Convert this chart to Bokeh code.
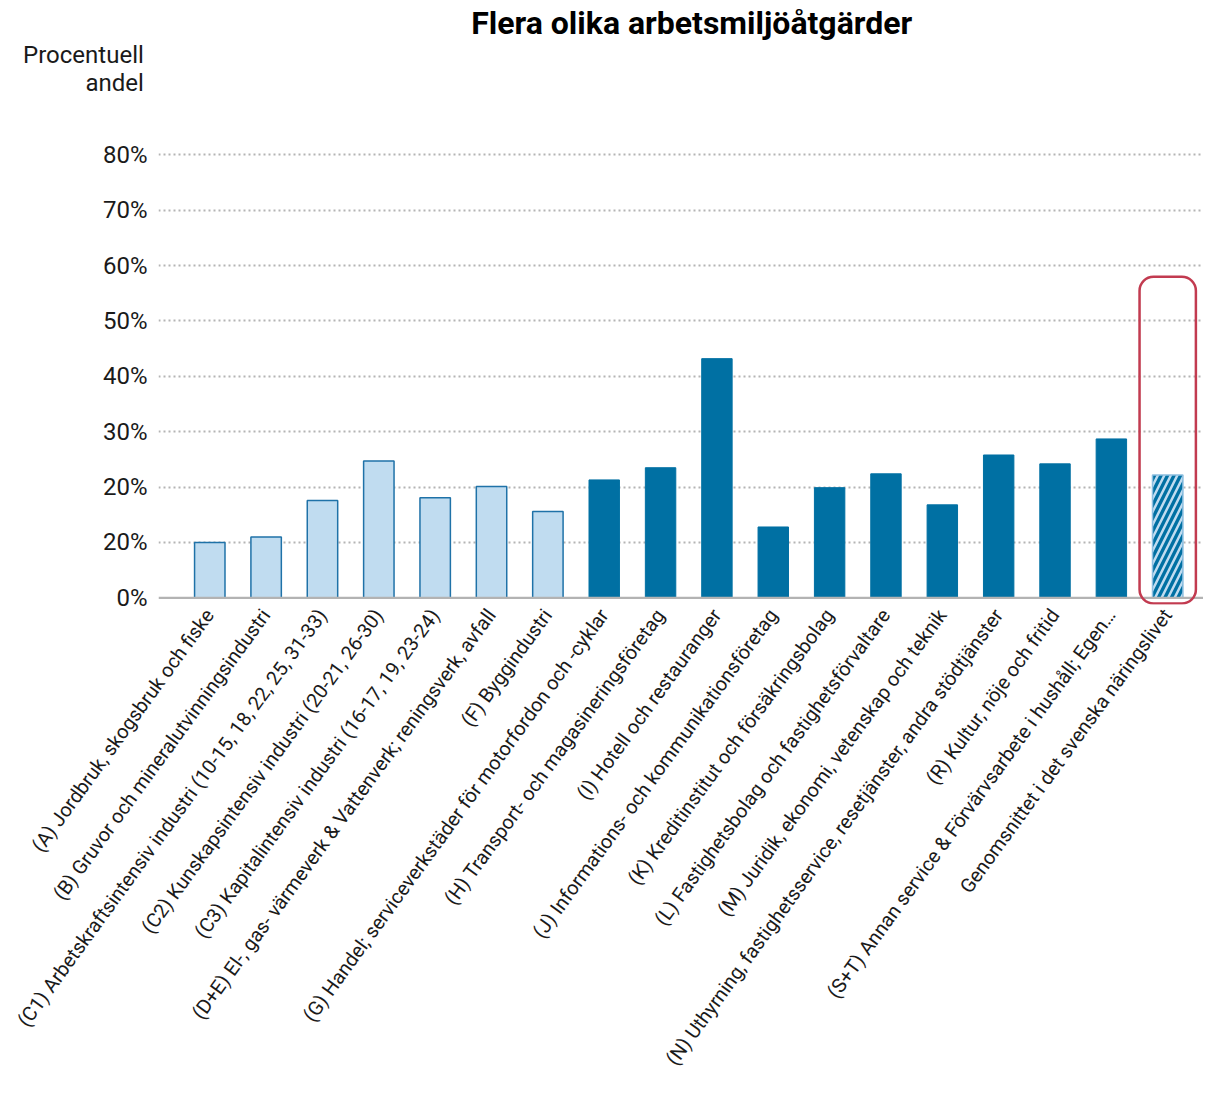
import math
from bokeh.plotting import figure
from bokeh.models import Range1d, FixedTicker, BoxAnnotation, ColumnDataSource, Span, Title
from bokeh.embed import file_html
from bokeh.resources import INLINE

# ---- data ----
categories = [
    "(A) Jordbruk, skogsbruk och fiske",
    "(B) Gruvor och mineralutvinningsindustri",
    "(C1) Arbetskraftsintensiv industri (10-15, 18, 22, 25, 31-33)",
    "(C2) Kunskapsintensiv industri (20-21, 26-30)",
    "(C3) Kapitalintensiv industri (16-17, 19, 23-24)",
    "(D+E) El-, gas- värmeverk & Vattenverk; reningsverk, avfall",
    "(F) Byggindustri",
    "(G) Handel; serviceverkstäder för motorfordon och -cyklar",
    "(H) Transport- och magasineringsföretag",
    "(I) Hotell och restauranger",
    "(J) Informations- och kommunikationsföretag",
    "(K) Kreditinstitut och försäkringsbolag",
    "(L) Fastighetsbolag och fastighetsförvaltare",
    "(M) Juridik, ekonomi, vetenskap och teknik",
    "(N) Uthyrning, fastighetsservice, resetjänster, andra stödtjänster",
    "(R) Kultur, nöje och fritid",
    "(S+T) Annan service & Förvärvsarbete i hushåll; Egen…",
    "Genomsnittet i det svenska näringslivet",
]
values = [10.0, 11.0, 17.6, 24.7, 18.1, 20.1, 15.6,
          21.3, 23.5, 43.2, 12.8, 19.9, 22.4, 16.8, 25.8, 24.2, 28.7,
          22.2]
groups = ["industri"] * 7 + ["tjanster"] * 10 + ["snitt"]

y_ticks = [0, 10, 20, 30, 40, 50, 60, 70, 80, 90]
y_tick_labels = ["0%", "20%", "20%", "30%", "40%", "50%", "60%", "70%", "80%", ""]

title_text = "Flera olika arbetsmiljöåtgärder"
y_title_lines = ["Procentuell", "andel"]
highlight_top = 58.0
highlight_bottom = -1.0

# ---- style ----
FONT = "Roboto"
DARK = "#0070a3"
LIGHT = "#c0dcf0"
OUTLINE = "#1f72a8"
RED = "#c23b50"
TXT = "#1a1a1a"
W, H = 1203, 1082

positions = list(range(len(categories)))

p = figure(
    width=W, height=H,
    x_range=Range1d(-0.91, 17.635),
    y_range=Range1d(-1.2, 90),
    output_backend="svg", toolbar_location=None,
    min_border_left=158, min_border_right=0, min_border_top=99, min_border_bottom=478,
)
p.outline_line_color = None

def subset(g):
    idx = [i for i, gg in enumerate(groups) if gg == g]
    return ColumnDataSource(dict(x=[positions[i] for i in idx], top=[values[i] for i in idx]))

p.vbar(x="x", top="top", bottom=0, width=0.54, source=subset("industri"),
       fill_color=LIGHT, line_color=OUTLINE, line_width=1.5)
p.vbar(x="x", top="top", bottom=0, width=0.54, source=subset("tjanster"),
       fill_color=DARK, line_color=DARK, line_width=1)
p.vbar(x="x", top="top", bottom=0, width=0.54, source=subset("snitt"),
       fill_color=DARK, line_color="#8dbfe0", line_width=1.5,
       hatch_pattern="/", hatch_color=LIGHT, hatch_weight=2.5, hatch_scale=13)

# baseline
p.add_layout(Span(location=0, dimension="width", line_color="#b3b3b3", line_width=2.2))

# highlight box around average
avg_idx = groups.index("snitt")
p.add_layout(BoxAnnotation(left=positions[avg_idx] - 0.5, right=positions[avg_idx] + 0.5,
                           top=highlight_top, bottom=highlight_bottom,
                           fill_alpha=0, line_color=RED, line_alpha=1, line_width=2.5,
                           border_radius=14))

# grid
p.xgrid.grid_line_color = None
p.ygrid.grid_line_color = "#b4b4b4"
p.ygrid.grid_line_dash = "2 3"
p.ygrid.grid_line_width = 2
p.ygrid.ticker = FixedTicker(ticks=y_ticks[1:])

# y axis
p.yaxis.ticker = FixedTicker(ticks=y_ticks)
p.yaxis.major_label_overrides = {t: l for t, l in zip(y_ticks, y_tick_labels)}
p.yaxis.axis_line_color = None
p.yaxis.major_tick_line_color = None
p.yaxis.minor_tick_line_color = None
p.yaxis.major_label_standoff = 5
p.yaxis.major_label_text_font = FONT
p.yaxis.major_label_text_font_size = "24px"
p.yaxis.major_label_text_color = TXT

# x axis (category labels)
p.xaxis.ticker = FixedTicker(ticks=positions)
p.xaxis.major_label_overrides = {i: c for i, c in zip(positions, categories)}
p.xaxis.axis_line_color = None
p.xaxis.major_tick_line_color = None
p.xaxis.minor_tick_line_color = None
p.xaxis.major_label_orientation = math.radians(54)
p.xaxis.major_label_text_font = FONT
p.xaxis.major_label_text_font_size = "19.8px"
p.xaxis.major_label_text_color = TXT
p.xaxis.major_label_standoff = 1

# titles: stacked upward from the frame (andel, Procentuell, main title)
p.add_layout(Title(text=y_title_lines[1], align="right", offset=W - 143.3,
                   vertical_align="bottom", standoff=5.8,
                   text_font=FONT, text_font_size="24px", text_font_style="normal",
                   text_color=TXT), "above")
p.add_layout(Title(text=y_title_lines[0], align="right", offset=W - 143.3,
                   vertical_align="bottom", standoff=-10,
                   text_font=FONT, text_font_size="24px", text_font_style="normal",
                   text_color=TXT), "above")
p.add_layout(Title(text=title_text, align="right", offset=W - 911.7,
                   vertical_align="top", standoff=0,
                   text_font=FONT, text_font_size="32px", text_font_style="bold",
                   text_color="#000000"), "above")

open("out.html", "w").write(file_html(p, INLINE))
